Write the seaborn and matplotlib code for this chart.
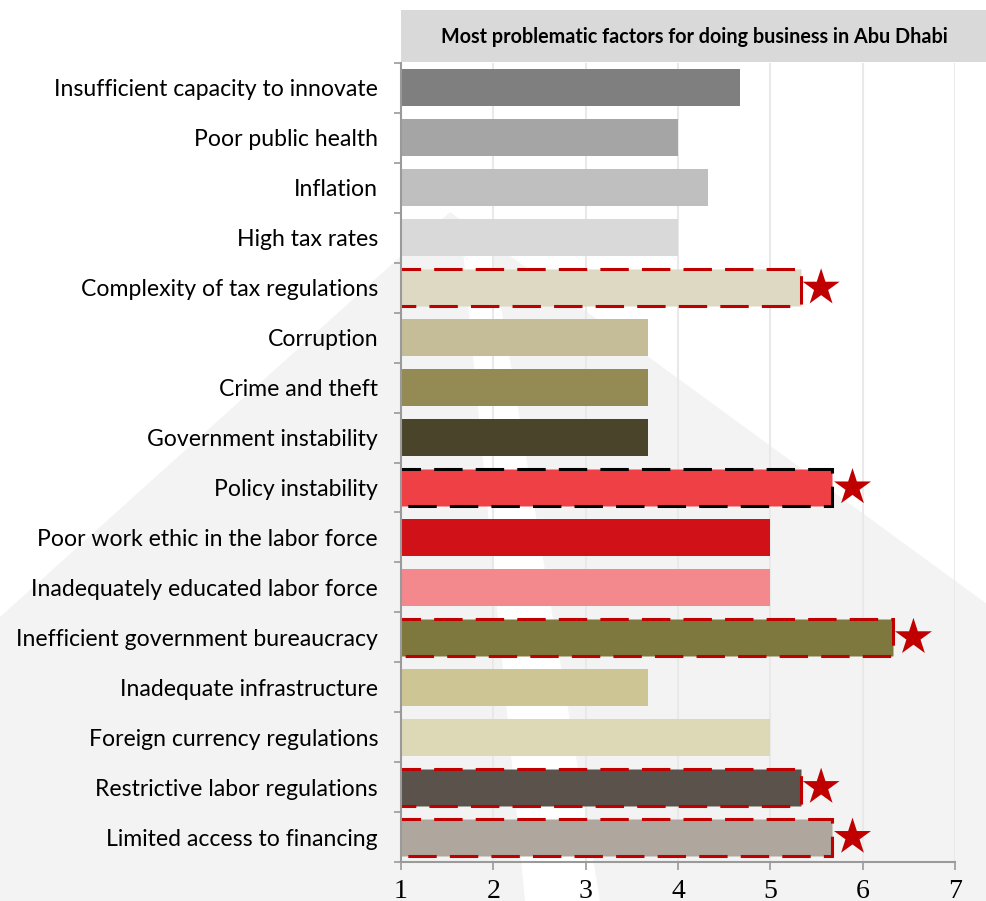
import matplotlib
matplotlib.use("Agg")
import matplotlib.pyplot as plt
from matplotlib.patches import Polygon, Rectangle
import numpy as np
import pandas as pd
import seaborn as sns

# Factors, scores and per-bar fill colours (top to bottom)
factors = [
    "Insufficient capacity to innovate",
    "Poor public health",
    "Inflation",
    "High tax rates",
    "Complexity of tax regulations",
    "Corruption",
    "Crime and theft",
    "Government instability",
    "Policy instability",
    "Poor work ethic in the labor force",
    "Inadequately educated labor force",
    "Inefficient government bureaucracy",
    "Inadequate infrastructure",
    "Foreign currency regulations",
    "Restrictive labor regulations",
    "Limited access to financing",
]
scores = [4.67, 4.0, 4.33, 4.0, 5.33, 3.67, 3.67, 3.67, 5.67, 5.0, 5.0, 6.33, 3.67, 5.0, 5.33, 5.67]
bar_colors = [
    "#7f7f7f", "#a5a5a5", "#bfbfbf", "#d9d9d9", "#ddd9c3", "#c4bd97",
    "#948a54", "#4a452a", "#ef4046", "#d01218", "#f4898d", "#7f783e",
    "#cdc594", "#ddd9b7", "#5a524b", "#afa69d",
]
# Highlighted factors and the colour of their dashed outline
highlight = {
    "Complexity of tax regulations": "#c00000",
    "Policy instability": "#000000",
    "Inefficient government bureaucracy": "#c00000",
    "Restrictive labor regulations": "#c00000",
    "Limited access to financing": "#c00000",
}
x_ticks = [1, 2, 3, 4, 5, 6, 7]
title = "Most problematic factors for doing business in Abu Dhabi"

df = pd.DataFrame({"factor": factors, "score": scores})

sns.set_theme(style="white")
plt.rcParams["font.family"] = ["Lato", "DejaVu Sans"]

W, H = 987, 901
fig = plt.figure(figsize=(W / 100, H / 100), dpi=100)
fig.patch.set_facecolor("white")

# Soft background emblem
def fpx(pts):
    return [(x / W, 1 - y / H) for x, y in pts]

fig.patches.append(Polygon(fpx([(450, 212), (0, 617), (0, 901), (987, 901), (987, 604)]),
                           closed=True, transform=fig.transFigure, facecolor="#f3f3f3",
                           edgecolor="none", zorder=-5))
fig.patches.append(Polygon(fpx([(462, 240), (490, 240), (600, 901), (525, 901)]),
                           closed=True, transform=fig.transFigure, facecolor="white",
                           edgecolor="none", zorder=-4))

# Title band
fig.patches.append(Rectangle((401 / W, 1 - 62 / H), (W - 401) / W, 52 / H,
                             transform=fig.transFigure, facecolor="#d9d9d9",
                             edgecolor="none", zorder=-3))
fig.text((401 + 987) / 2 / W, 1 - 37 / H, title, ha="center", va="center",
         fontsize=14.2, fontweight="bold", color="black")

ax = fig.add_axes([401 / W, 1 - 862 / H, (955 - 401) / W, (862 - 63) / H])
ax.set_facecolor("none")

sns.barplot(data=df, x="score", y="factor", hue="factor", palette=bar_colors,
            orient="h", legend=False, width=0.74, saturation=1, ax=ax, zorder=3)

for patch, name in zip(ax.patches, factors):
    if name in highlight:
        patch.set_edgecolor(highlight[name])
        patch.set_linewidth(2.2)
        patch.set_linestyle((0, (9.3, 4.3)))
        patch.set_joinstyle("miter")
    else:
        patch.set_linewidth(0)
        patch.set_edgecolor("none")

# Stars beside highlighted bars
star_df = df[df["factor"].isin(highlight.keys())].copy()
star_df["star_x"] = star_df["score"] + 0.22
sns.scatterplot(data=star_df, x="star_x", y="factor", marker="*", s=28 ** 2,
                color="#c00000", edgecolor="none", ax=ax, zorder=5, clip_on=False)

ax.set_xlim(1, 7)
ax.set_ylim(len(factors) - 0.5, -0.5)
ax.set_xticks(x_ticks)
ax.set_xticklabels([str(t) for t in x_ticks], fontfamily="Liberation Serif", fontsize=20)
ax.set_xlabel("")
ax.set_ylabel("")

# Vertical gridlines
for t in x_ticks[1:]:
    ax.axvline(t, color="#e9e9e9", linewidth=1.5, zorder=1)

# Category separators as minor ticks on the left
ax.set_yticks(np.arange(len(factors) + 1) - 0.5, minor=True)
ax.tick_params(axis="y", which="major", length=0, pad=16.5, labelsize=16.6, labelcolor="black")
ax.tick_params(axis="y", which="minor", left=True, length=5, width=1.2, color="#9a9a9a")
ax.tick_params(axis="x", which="major", bottom=True, length=6, width=1.2, color="#9a9a9a",
               pad=6, labelcolor="black")

for side in ["top", "right"]:
    ax.spines[side].set_visible(False)
for side in ["left", "bottom"]:
    ax.spines[side].set_visible(True)
    ax.spines[side].set_color("#9a9a9a")
    ax.spines[side].set_linewidth(1.5)
    ax.spines[side].set_zorder(6)

fig.savefig("out.png", dpi=100)
